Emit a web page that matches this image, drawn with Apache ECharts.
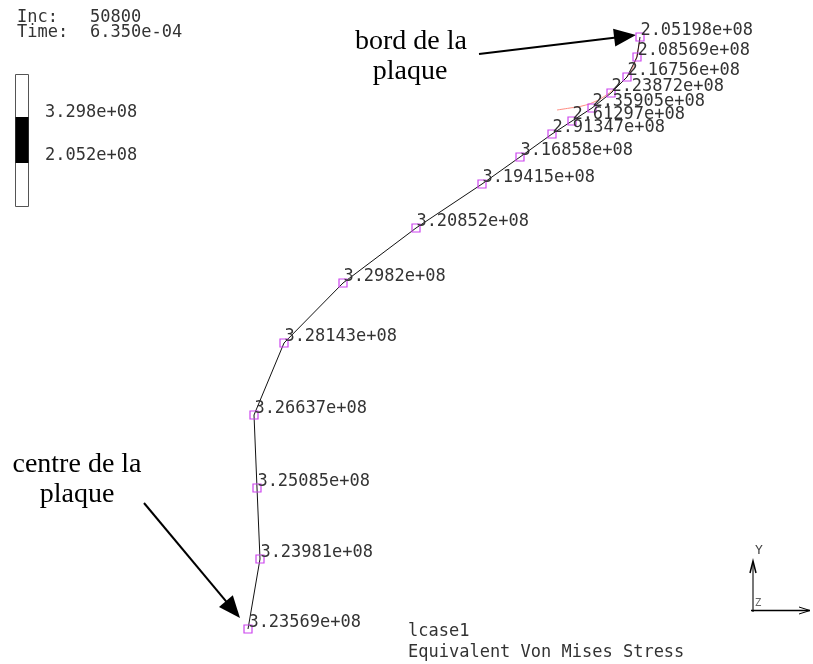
<!DOCTYPE html>
<html>
<head>
<meta charset="utf-8">
<script src="https://cdn.jsdelivr.net/npm/echarts@6/dist/echarts.min.js"></script>
<style>
  html, body { margin: 0; padding: 0; background: #fff; }
  #main { width: 813px; height: 664px; }
</style>
</head>
<body>
<div id="main"></div>
<script>
// node positions along the path (screen units of the plot), centre -> edge
var nodeX = [248, 260, 257, 254, 284, 343, 416, 482, 520, 552, 572, 592, 611, 627, 637, 640];
var nodeY = [629, 559, 488, 415, 343, 283, 228, 184, 157, 134, 121, 108, 93, 77, 57, 37];
// equivalent von mises stress at each node
var stress = [3.23569e8, 3.23981e8, 3.25085e8, 3.26637e8, 3.28143e8, 3.2982e8, 3.20852e8, 3.19415e8,
  3.16858e8, 2.91347e8, 2.61297e8, 2.35905e8, 2.23872e8, 2.16756e8, 2.08569e8, 2.05198e8];
// thin red curve near the edge
var redX = [557, 570, 582, 594, 605, 614, 622, 629, 635, 638, 640];
var redY = [110, 108, 106, 102, 96, 89, 82, 74, 62, 50, 40];

var incLabel = '50800';
var timeLabel = '6.350e-04';

// %g style: 6 significant digits, trailing zeros removed, 2 digit exponent
function fmtG(v, d) {
  var s = v.toExponential(d);
  var parts = s.split('e');
  var m = parts[0];
  if (m.indexOf('.') >= 0) m = m.replace(/0+$/, '').replace(/\.$/, '');
  var e = parseInt(parts[1], 10);
  var es = (e < 0 ? '-' : '+') + (Math.abs(e) < 10 ? '0' : '') + Math.abs(e);
  return m + 'e' + es;
}
function fmtFixed(v, d) {
  var parts = v.toExponential(d).split('e');
  var e = parseInt(parts[1], 10);
  return parts[0] + 'e' + (e < 0 ? '-' : '+') + (Math.abs(e) < 10 ? '0' : '') + Math.abs(e);
}

var pathData = [], redData = [];
for (var i = 0; i < nodeX.length; i++) {
  pathData.push([nodeX[i], nodeY[i], stress[i]]);
}
for (var j = 0; j < redX.length; j++) {
  redData.push([redX[j], redY[j]]);
}
var vMax = Math.max.apply(null, stress), vMin = Math.min.apply(null, stress);

var mono = '"DejaVu Sans Mono", monospace';
var serif = '"Liberation Serif", "Times New Roman", serif';

function arrow(x1, y1, x2, y2, len, half) {
  var dx = x2 - x1, dy = y2 - y1, L = Math.sqrt(dx * dx + dy * dy);
  var ux = dx / L, uy = dy / L, nx = -uy, ny = ux;
  var bx = x2 - ux * len, by = y2 - uy * len;
  return [
    { type: 'line', shape: { x1: x1, y1: y1, x2: bx + ux * 2, y2: by + uy * 2 }, style: { stroke: '#000', lineWidth: 2 } },
    { type: 'polygon', shape: { points: [[x2, y2], [bx + nx * half, by + ny * half], [bx - nx * half, by - ny * half]] }, style: { fill: '#000' } }
  ];
}

function txt(x, y, s, font, size, color) {
  return { type: 'text', x: x, y: y, style: { text: s, font: size + 'px ' + font, fill: color || '#333', verticalAlign: 'middle', align: 'left' } };
}

var graphics = [
  txt(17, 18, 'Inc:', mono, 17), txt(90, 18, incLabel, mono, 17),
  txt(17, 33, 'Time:', mono, 17), txt(90, 33, timeLabel, mono, 17),
  { type: 'rect', shape: { x: 15.5, y: 74.5, width: 13, height: 132 }, style: { fill: '#fff', stroke: '#555', lineWidth: 1 } },
  { type: 'rect', shape: { x: 15.5, y: 117, width: 13, height: 46 }, style: { fill: '#000' } },
  txt(45, 113, fmtFixed(vMax, 3), mono, 17), txt(45, 156, fmtFixed(vMin, 3), mono, 17),
  { type: 'text', x: 411, y: 42, style: { text: 'bord de la', font: '28px ' + serif, fill: '#000', align: 'center', verticalAlign: 'middle' } },
  { type: 'text', x: 410, y: 72, style: { text: 'plaque', font: '28px ' + serif, fill: '#000', align: 'center', verticalAlign: 'middle' } },
  { type: 'text', x: 77, y: 465, style: { text: 'centre de la', font: '28px ' + serif, fill: '#000', align: 'center', verticalAlign: 'middle' } },
  { type: 'text', x: 77, y: 495, style: { text: 'plaque', font: '28px ' + serif, fill: '#000', align: 'center', verticalAlign: 'middle' } },
  txt(408, 632, 'lcase1', mono, 17), txt(408, 653, 'Equivalent Von Mises Stress', mono, 17),
  // axis triad
  { type: 'line', shape: { x1: 753, y1: 612, x2: 753, y2: 562 }, style: { stroke: '#777', lineWidth: 2 } },
  { type: 'polyline', shape: { points: [[750, 573], [753, 561], [756, 573]] }, style: { stroke: '#000', lineWidth: 1.5, fill: null } },
  { type: 'line', shape: { x1: 751, y1: 610.5, x2: 810, y2: 610.5 }, style: { stroke: '#000', lineWidth: 1.5 } },
  { type: 'polyline', shape: { points: [[799, 607], [810, 610.5], [799, 614]] }, style: { stroke: '#000', lineWidth: 1, fill: null } },
  { type: 'text', x: 759, y: 551, style: { text: 'Y', font: '13px ' + mono, fill: '#444', align: 'center', verticalAlign: 'middle' } },
  { type: 'text', x: 758, y: 603, style: { text: 'Z', font: '11px ' + mono, fill: '#666', align: 'center', verticalAlign: 'middle' } }
];
graphics = graphics.concat(arrow(479, 54, 636, 35, 22, 9));
graphics = graphics.concat(arrow(144, 503, 240, 618, 22, 9));

var chart = echarts.init(document.getElementById('main'));
chart.setOption({
  backgroundColor: '#fff',
  animation: false,
  grid: { left: 0, right: 0, top: 0, bottom: 0 },
  xAxis: { type: 'value', min: 0, max: 813, show: false },
  yAxis: { type: 'value', min: 0, max: 664, inverse: true, show: false },
  graphic: graphics,
  series: [
    {
      type: 'line',
      data: redData,
      smooth: true,
      symbol: 'none',
      lineStyle: { color: '#ff8a80', width: 1 },
      z: 1
    },
    {
      type: 'line',
      data: pathData,
      symbol: 'rect',
      symbolSize: 8,
      itemStyle: { color: 'rgba(0,0,0,0)', borderColor: '#cc44ee', borderWidth: 1.2 },
      lineStyle: { color: '#111', width: 1 },
      label: {
        show: true,
        position: [5, -1.5],
        align: 'left',
        verticalAlign: 'middle',
        fontFamily: mono,
        fontSize: 17,
        color: '#333',
        formatter: function (p) { return fmtG(p.value[2], 5); }
      },
      labelLayout: { hideOverlap: false },
      z: 2
    }
  ]
});
window.addEventListener('resize', function () { chart.resize(); });
</script>
</body>
</html>
